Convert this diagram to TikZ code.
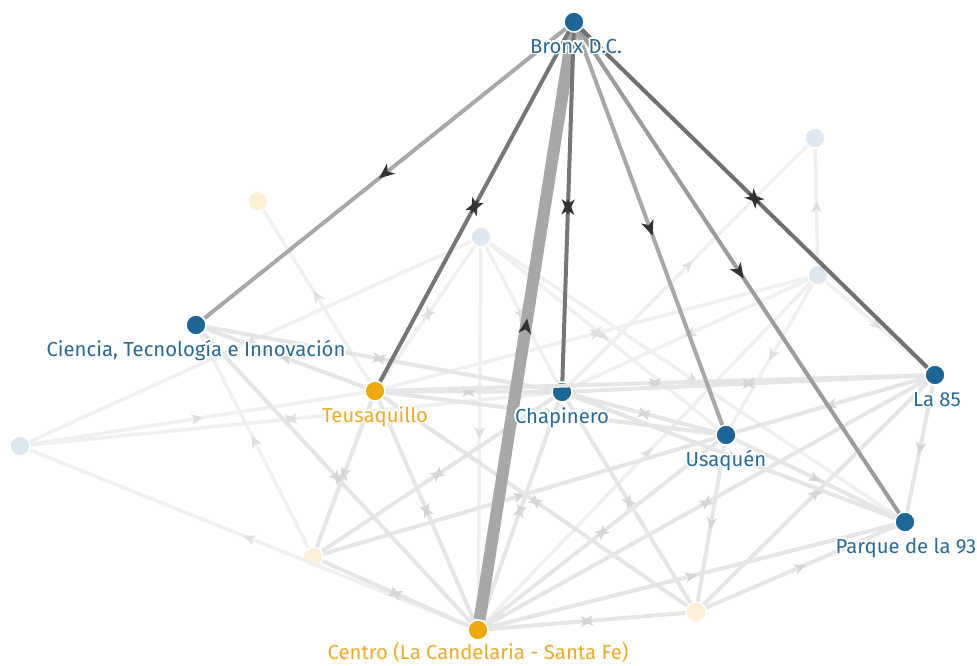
\documentclass[tikz,border=0pt]{standalone}
\usepackage{fontspec}
\usepackage[copies]{contour}
\usetikzlibrary{decorations.markings,arrows.meta}
\newfontfamily\lblfont{Fira Sans}
\contourlength{1.6pt}
\definecolor{nblue}{HTML}{1B6697}
\definecolor{norange}{HTML}{EEAA0A}
\definecolor{lblue}{HTML}{2A6A99}
\definecolor{lorange}{HTML}{EFAA28}
\definecolor{fblue}{HTML}{DEE8F0}
\definecolor{forange}{HTML}{FDF0D6}
\definecolor{fedge}{HTML}{E6E6E6}
\definecolor{fledge}{HTML}{F0F0F0}
\definecolor{fmark}{HTML}{D6D6D6}
\definecolor{flmark}{HTML}{E0E0E0}
\definecolor{dmark}{HTML}{333333}
\definecolor{hlA}{HTML}{A8A8A8}
\definecolor{hlB}{HTML}{767676}
\definecolor{hlC}{HTML}{9C9C9C}
\tikzset{
  bnode/.style={circle,fill=nblue,draw=white,line width=1.5pt,minimum size=20pt,inner sep=0pt},
  onode/.style={bnode,fill=norange},
  fbnode/.style={bnode,fill=fblue},
  fonode/.style={bnode,fill=forange},
  lbl/.style={anchor=base,inner sep=0pt,font=\lblfont\fontsize{20.3}{22}\selectfont},
  lblb/.style={lbl,text=lblue},
  lblo/.style={lbl,text=lorange},
  fe/.style={draw=fedge,line width=4pt},
  fl/.style={draw=fledge,line width=3.5pt},
  hl/.style={line width=4pt},
  amark/.style 2 args={postaction={decorate,decoration={markings,mark=at position 0.5 with {
     \fill[#1] (0.5*#2,0pt) -- (-0.5*#2,0.42*#2) -- (-0.22*#2,0pt) -- (-0.5*#2,-0.42*#2) -- cycle;}}}},
  smark/.style 2 args={postaction={decorate,decoration={markings,mark=at position 0.5 with {
     \fill[#1] (0.5*#2,0pt) -- (-0.5*#2,0.42*#2) -- (-0.22*#2,0pt) -- (-0.5*#2,-0.42*#2) -- cycle;
     \fill[#1] (-0.5*#2,0pt) -- (0.5*#2,0.42*#2) -- (0.22*#2,0pt) -- (0.5*#2,-0.42*#2) -- cycle;}}}},
  da/.style={amark={dmark}{15.5pt}},
  ds/.style={smark={dmark}{15.5pt}},
  fa/.style={amark={fmark}{12.5pt}},
  fs/.style={smark={fmark}{12.5pt}},
  la/.style={amark={flmark}{12.5pt}},
  ls/.style={smark={flmark}{12.5pt}},
}
\begin{document}
\begin{tikzpicture}[x=1pt,y=-1pt]
\useasboundingbox (0,0) rectangle (977,665);
% nodes
\node[bnode] (B) at (574,22) {};
\node[bnode] (C) at (196,325) {};
\node[onode] (T) at (375,391) {};
\node[bnode] (Ch) at (562,392) {};
\node[bnode] (U) at (726,435) {};
\node[bnode] (L) at (935,375) {};
\node[bnode] (P) at (905,522) {};
\node[onode] (Ce) at (478,630) {};
\node[fbnode] (f1) at (20,446) {};
\node[fbnode] (f2) at (481,237) {};
\node[fbnode] (f3) at (815,138) {};
\node[fbnode] (f4) at (818,275) {};
\node[fonode] (g1) at (258,201) {};
\node[fonode] (g2) at (313,557) {};
\node[fonode] (g3) at (696,612) {};
% faded edges involving faded nodes
\draw[fl,la] (f1) -- (T);
\draw[fl,ls] (f1) -- (Ch);
\draw[fl,la] (f2) -- (f1);
\draw[fl,la] (Ce) -- (f1);
\draw[fl,la] (g2) -- (C);
\draw[fl,la] (T) -- (g1);
\draw[fl,ls] (f2) -- (T);
\draw[fl,ls] (f2) -- (Ch);
\draw[fl,la] (f2) -- (Ce);
\draw[fl,la] (f2) -- (U);
\draw[fl,la] (f2) -- (P);
\draw[fl,ls] (f4) -- (T);
\draw[fl,la] (f4) -- (U);
\draw[fl,la] (f4) -- (L);
\draw[fl,la] (f4) -- (f3);
\draw[fl,la] (Ch) -- (f3);
\draw[fl,la] (Ce) -- (f4);
\draw[fl,la] (f4) -- (Ch);
\draw[fe,fs] (Ce) -- (g2);
\draw[fe,fs] (Ce) -- (g3);
\draw[fe,fs] (g2) -- (T);
\draw[fe,fs] (g2) -- (Ch);
\draw[fe,fa] (g2) -- (U);
\draw[fe,fs] (g3) -- (T);
\draw[fe,fs] (Ch) -- (g3);
\draw[fe,fa] (U) -- (g3);
\draw[fe,fs] (L) -- (g3);
\draw[fe,fa] (g3) -- (P);
% faded edges among main nodes
\draw[fe,fa] (T) -- (C);
\draw[fe,fs] (C) -- (Ch);
\draw[fe,fs] (C) -- (Ce);
\draw[fe,fs] (T) -- (Ch);
\draw[fe,fa] (T) -- (U);
\draw[fe,fs] (T) -- (L);
\draw[fe,fs] (Ch) -- (U);
\draw[fe,fs] (Ch) -- (L);
\draw[fe,fa] (Ch) -- (P);
\draw[fe,fa] (L) -- (U);
\draw[fe,fa] (U) -- (P);
\draw[fe,fa] (L) -- (P);
\draw[fe,fs] (Ce) -- (T);
\draw[fe,fs] (Ce) -- (Ch);
\draw[fe,fs] (Ce) -- (U);
\draw[fe,fs] (Ce) -- (L);
\draw[fe,fa] (Ce) -- (P);
% highlighted edges from Bronx
\draw[draw=hlA,line width=12pt,da] (Ce) -- (B);
\draw[hl,draw=hlA,da] (B) -- (C);
\draw[hl,draw=hlB,ds] (B) -- (T);
\draw[hl,draw=hlB,ds] (B) -- (Ch);
\draw[hl,draw=hlA,da] (B) -- (U);
\draw[hl,draw=hlC,da] (B) -- (P);
\draw[hl,draw=hlB!95!black,ds] (B) -- (L);
% labels
\node[lblb] (lB) at (576,53) {\contour{white}{Bronx D.C.}};
\node[lblb] (lC) at (196,356) {\contour{white}{Ciencia, Tecnología e Innovación}};
\node[lblo] (lT) at (375,422) {\contour{white}{Teusaquillo}};
\node[lblb] (lCh) at (562,423) {\contour{white}{Chapinero}};
\node[lblb] (lU) at (726,466) {\contour{white}{Usaquén}};
\node[lblb] (lL) at (937,406) {\contour{white}{La 85}};
\node[lblb] (lP) at (906,553) {\contour{white}{Parque de la 93}};
\node[lblo] (lCe) at (478,659) {\contour{white}{Centro (La Candelaria - Santa Fe)}};
\end{tikzpicture}
\end{document}
